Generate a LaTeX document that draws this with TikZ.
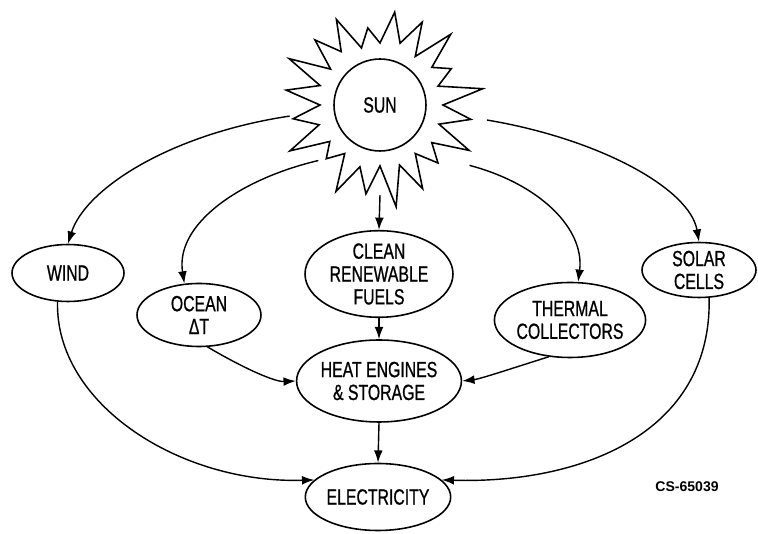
\documentclass[tikz,border=0pt]{standalone}
\usepackage{fontspec}
\setmainfont{Liberation Sans}[FakeStretch=0.72,FakeBold=0.8]
\newfontfamily\tagfont{Liberation Sans}
\usepackage{tikz}
\usetikzlibrary{shapes.geometric,arrows.meta}

\tikzset{
  blob/.style={ellipse,draw,line width=0.9pt,inner sep=0pt,align=center,
    font=\fontsize{12.5}{13}\selectfont},
  flow/.style={line width=0.8pt,-{Latex[length=7pt,width=5pt]}}
}

\begin{document}
\begin{tikzpicture}[x=0.02cm,y=0.02cm]
    \useasboundingbox (0,0) rectangle (758,534);

    \node[circle,draw,line width=0.9pt,minimum size=1.84cm,inner sep=0pt,
      font=\fontsize{12.5}{13}\selectfont] (sun) at (380,429) {SUN};
    \draw[line width=0.9pt,line join=miter]
      ([shift={(0:63)}]sun.center)
      \foreach \k/\ro/\ri in {0/104/61,1/80/64,2/100/60,3/93/65,4/94/62,5/78/60,
        6/96/66,7/92/61,8/102/63,9/95/60,10/88/64,11/101/62,12/76/60,
        13/97/65,14/90/61,15/103/63,16/94/60,17/82/64,18/100/62,19/92/63}
      { -- ([shift={({\k*18+9}:\ro)}]sun.center)
        -- ([shift={({\k*18+18}:\ri)}]sun.center) } -- cycle;

    \node[blob,minimum width=2.24cm,minimum height=1.14cm] (wind) at (68,261) {WIND};
    \node[blob,minimum width=2.48cm,minimum height=1.26cm] (ocean) at (199,219) {OCEAN\\ΔT};
    \node[blob,minimum width=2.96cm,minimum height=1.5cm] (fuels) at (379,260) {CLEAN\\RENEWABLE\\FUELS};
    \node[blob,minimum width=3.14cm,minimum height=1.64cm] (heat) at (379,153) {HEAT ENGINES\\\& STORAGE};
    \node[blob,minimum width=2.52cm,minimum height=1.34cm] (elec) at (378,37) {ELECTRICITY};
    \node[blob,minimum width=2.94cm,minimum height=1.5cm] (thermal) at (570,214) {THERMAL\\COLLECTORS};
    \node[blob,minimum width=2.28cm,minimum height=1.1cm] (solar) at (699,264) {SOLAR\\CELLS};
    \node[font=\tagfont\bfseries\fontsize{8}{9}\selectfont] (tag) at (687,47) {CS-65039};

    % sun to the collectors
    \draw[flow] ([shift={(187:91)}]sun.center) .. controls (170,400) and (85,345) .. (wind.north);
    \draw[flow] ([shift={(222:83)}]sun.center) .. controls (240,355) and (175,310) .. (ocean.115);
    \draw[flow] ([shift={(270:90)}]sun.center) -- (fuels.north);
    \draw[flow] ([shift={(352:108)}]sun.center) .. controls (600,395) and (690,345) .. (solar.north);
    \draw[flow] ([shift={(326:108)}]sun.center) .. controls (540,350) and (585,305) .. (thermal.78);

    % into heat engines
    \draw[flow] (fuels.south) -- (heat.north);
    \draw[flow] (ocean.285) .. controls (245,165) and (275,152) .. (heat.west);
    \draw[flow] (thermal.240) .. controls (510,165) and (480,155) .. (heat.east);

    % into electricity
    \draw[flow] (heat.south) -- (elec.north);
    \draw[flow] (wind.250) .. controls (55,130) and (180,50) .. (elec.165);
    \draw[flow] (solar.290) .. controls (712,100) and (580,50) .. (elec.15);
\end{tikzpicture}
\end{document}
